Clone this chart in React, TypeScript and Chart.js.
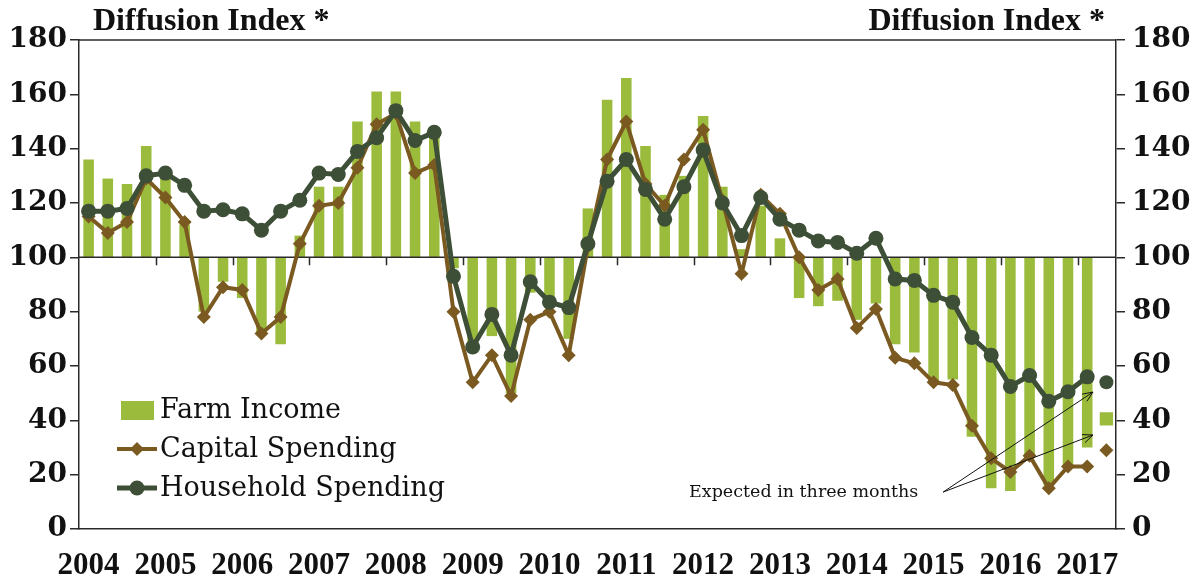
import React, { useEffect, useRef } from 'react';
import { Chart, registerables } from 'chart.js';

Chart.register(...registerables);

// ---- data ----
const years = ['2004', '2005', '2006', '2007', '2008', '2009', '2010', '2011', '2012', '2013', '2014', '2015', '2016', '2017'];
const quarterNames = ['Q1', 'Q2', 'Q3', 'Q4'];
// 2004 Q1 ... 2017 Q2 (2017 Q2 = expected in three months)
const quarters = years.flatMap((y) => quarterNames.map((q) => `${y} ${q}`)).slice(0, 54);

const farmIncome = [
  136, 129, 127, 141,
  129, 112, 80, 91,
  85, 72, 68, 108,
  126, 126, 150, 161,
  161, 150, 146, 96,
  68, 71, 50, 87,
  82, 70, 118, 158,
  166, 141, 123, 130,
  152, 126, 103, 119,
  107, 85, 82, 84,
  77, 83, 68, 65,
  54, 55, 34, 15,
  14, 27, 16, 23,
  30,
];
const capitalSpending = [
  115, 109, 113, 129,
  122, 113, 78, 89,
  88, 72, 78, 105,
  119, 120, 133, 149,
  153, 131, 134, 80,
  54, 64, 49, 77,
  80, 64, 104, 136,
  150, 127, 119, 136,
  147, 121, 94, 123,
  116, 100, 88, 92,
  74, 81, 63, 61,
  54, 53, 38, 26,
  21, 27, 15, 23,
  23,
];
const householdSpending = [
  117, 117, 118, 130,
  131, 126.5, 117, 117.5,
  116, 110, 117, 121,
  131, 130.5, 139, 144,
  154, 143, 146, 93,
  67, 79, 64, 91,
  83.5, 81.5, 105, 128,
  136, 125, 114, 126,
  139.5, 120, 108, 122,
  114, 110, 106, 105.5,
  101.5, 107, 92, 91.5,
  86, 83.5, 70.5, 64,
  52.5, 56.5, 47, 50.5,
  56,
];
const expectedFarmIncome = 40.5;
const expectedCapitalSpending = 29;
const expectedHouseholdSpending = 54;

const baseline = 100;
const yMin = 0;
const yMax = 180;
const yStep = 20;

const titleText = 'Diffusion Index *';
const annotationText = 'Expected in three months';
const seriesNames = ['Farm Income', 'Capital Spending', 'Household Spending'];

// annotation anchors in data units (category index, value)
const annotationTextAt = [43.2, 11.8];
const arrowStart = [44.5, 13.6];
const arrowEnds = [[52.3, 50.4], [52.3, 34.6]];

// ---- styles ----
const GREEN = '#9bbb3c';
const BROWN = '#7b5a22';
const DARK = '#3e4f37';
const AXIS = '#2a2a2a';
const SERIF = '"Liberation Serif", "Times New Roman", serif';
const SERIF2 = '"DejaVu Serif", serif';

const expectedOnly = (v: number) => quarters.map((_, i) => (i === quarters.length - 1 ? v : null));
const padToQuarters = (arr: number[]) => quarters.map((_, i) => (i < arr.length ? arr[i] : null));

const overlayPlugin = {
  id: 'overlay',
  afterDatasetDraw(chart: any, args: any) {
    if (args.index !== 0) return;
    const { ctx, chartArea, scales } = chart;
    const x = scales.x;
    const y = scales.y;
    const yb = y.getPixelForValue(baseline);
    ctx.save();
    ctx.strokeStyle = AXIS;
    ctx.lineWidth = 1.5;
    ctx.beginPath();
    ctx.moveTo(chartArea.left, yb);
    ctx.lineTo(chartArea.right, yb);
    quarters.forEach((q, i) => {
      if (i > 0 && q.endsWith('Q1')) {
        const px = Math.round(x.getPixelForValue(i - 0.5)) + 0.5;
        ctx.moveTo(px, yb);
        ctx.lineTo(px, yb + 8);
      }
    });
    ctx.stroke();
    ctx.restore();
  },
  afterDraw(chart: any) {
    const { ctx, chartArea, scales } = chart;
    const x = scales.x;
    const y = scales.y;
    ctx.save();
    // top border
    ctx.strokeStyle = AXIS;
    ctx.lineWidth = 1.5;
    ctx.beginPath();
    ctx.moveTo(chartArea.left, chartArea.top);
    ctx.lineTo(chartArea.right, chartArea.top);
    ctx.stroke();

    // titles
    ctx.fillStyle = '#111';
    ctx.font = `bold 32px ${SERIF}`;
    ctx.textBaseline = 'alphabetic';
    ctx.textAlign = 'left';
    ctx.fillText(titleText, chartArea.left + 14, chartArea.top - 10);
    ctx.textAlign = 'right';
    ctx.fillText(titleText, chartArea.right - 11, chartArea.top - 10);

    // legend
    const lx = chartArea.left + 38;
    const rows = [chartArea.bottom - 119, chartArea.bottom - 80, chartArea.bottom - 41];
    ctx.font = `27px ${SERIF2}`;
    ctx.textAlign = 'left';
    ctx.textBaseline = 'middle';
    // farm income
    ctx.fillStyle = GREEN;
    ctx.fillRect(lx + 4, rows[0] - 9, 33, 19);
    // capital
    ctx.strokeStyle = BROWN;
    ctx.lineWidth = 4;
    ctx.beginPath();
    ctx.moveTo(lx, rows[1]);
    ctx.lineTo(lx + 40, rows[1]);
    ctx.stroke();
    ctx.fillStyle = BROWN;
    ctx.beginPath();
    ctx.moveTo(lx + 20 - 7, rows[1]);
    ctx.lineTo(lx + 20, rows[1] - 7);
    ctx.lineTo(lx + 20 + 7, rows[1]);
    ctx.lineTo(lx + 20, rows[1] + 7);
    ctx.closePath();
    ctx.fill();
    // household
    ctx.strokeStyle = DARK;
    ctx.lineWidth = 5;
    ctx.beginPath();
    ctx.moveTo(lx, rows[2]);
    ctx.lineTo(lx + 40, rows[2]);
    ctx.stroke();
    ctx.fillStyle = DARK;
    ctx.beginPath();
    ctx.arc(lx + 20, rows[2], 7.5, 0, Math.PI * 2);
    ctx.fill();
    ctx.fillStyle = '#111';
    seriesNames.forEach((n, i) => ctx.fillText(n, lx + 43, rows[i] + 1));

    // annotation
    ctx.font = `17.5px ${SERIF2}`;
    ctx.textAlign = 'right';
    ctx.textBaseline = 'alphabetic';
    ctx.fillStyle = '#111';
    ctx.fillText(annotationText, x.getPixelForValue(annotationTextAt[0]), y.getPixelForValue(annotationTextAt[1]));
    const sx = x.getPixelForValue(arrowStart[0]);
    const sy = y.getPixelForValue(arrowStart[1]);
    ctx.strokeStyle = '#111';
    ctx.lineWidth = 1;
    arrowEnds.forEach(([ei, ev]) => {
      const ex = x.getPixelForValue(ei);
      const ey = y.getPixelForValue(ev);
      ctx.beginPath();
      ctx.moveTo(sx, sy);
      ctx.lineTo(ex, ey);
      const ang = Math.atan2(ey - sy, ex - sx);
      const hl = 11;
      ctx.moveTo(ex - hl * Math.cos(ang - 0.4), ey - hl * Math.sin(ang - 0.4));
      ctx.lineTo(ex, ey);
      ctx.lineTo(ex - hl * Math.cos(ang + 0.4), ey - hl * Math.sin(ang + 0.4));
      ctx.stroke();
    });
    ctx.restore();
  },
};

export default function App() {
  const canvasRef = useRef<HTMLCanvasElement | null>(null);

  useEffect(() => {
    if (!canvasRef.current) return;
    const tickFont = { family: SERIF2, weight: 'bold' as const, size: 28 };
    const chart = new Chart(canvasRef.current, {
      type: 'bar',
      data: {
        labels: quarters,
        datasets: [
          {
            type: 'bar',
            label: seriesNames[0],
            data: quarters.map((_, i) => (i < farmIncome.length ? [baseline, farmIncome[i]] : null)) as any,
            backgroundColor: GREEN,
            barPercentage: 0.55,
            categoryPercentage: 1,
            order: 5,
          },
          {
            type: 'line',
            label: seriesNames[1],
            data: padToQuarters(capitalSpending),
            borderColor: BROWN,
            backgroundColor: BROWN,
            borderWidth: 4,
            pointStyle: 'rectRot',
            pointRadius: 7,
            pointBorderWidth: 0,
            pointBackgroundColor: BROWN,
            tension: 0,
            order: 2,
          },
          {
            type: 'line',
            label: seriesNames[2],
            data: padToQuarters(householdSpending),
            borderColor: DARK,
            backgroundColor: DARK,
            borderWidth: 5,
            pointStyle: 'circle',
            pointRadius: 7.5,
            pointBorderWidth: 0,
            pointBackgroundColor: DARK,
            tension: 0,
            order: 1,
          },
          {
            type: 'line',
            label: 'Farm Income (expected)',
            data: expectedOnly(expectedFarmIncome),
            showLine: false,
            pointStyle: 'rect',
            pointRadius: 9.4,
            pointBorderWidth: 0,
            pointBackgroundColor: GREEN,
            order: 0,
          },
          {
            type: 'line',
            label: 'Capital Spending (expected)',
            data: expectedOnly(expectedCapitalSpending),
            showLine: false,
            pointStyle: 'rectRot',
            pointRadius: 7,
            pointBorderWidth: 0,
            pointBackgroundColor: BROWN,
            order: 0,
          },
          {
            type: 'line',
            label: 'Household Spending (expected)',
            data: expectedOnly(expectedHouseholdSpending),
            showLine: false,
            pointStyle: 'circle',
            pointRadius: 7,
            pointBorderWidth: 0,
            pointBackgroundColor: DARK,
            order: 0,
          },
        ],
      },
      options: {
        animation: false,
        responsive: false,
        devicePixelRatio: 1,
        layout: { padding: { top: 40, left: 0, right: 0, bottom: 0 } },
        plugins: {
          legend: { display: false },
          tooltip: { enabled: false },
          title: { display: false },
        },
        scales: {
          x: {
            type: 'category',
            offset: true,
            grid: { display: false },
            border: { display: true, color: AXIS, width: 1.5 },
            ticks: {
              autoSkip: false,
              maxRotation: 0,
              minRotation: 0,
              padding: 10,
              color: '#111',
              font: { family: SERIF, weight: 'bold', size: 31 },
              callback: (_v: any, i: number) => (quarters[i].endsWith('Q1') ? quarters[i].slice(0, 4) : ''),
            },
            afterFit: (s: any) => {
              s.height = 54;
            },
          },
          y: {
            position: 'left',
            min: yMin,
            max: yMax,
            grid: { display: true, drawOnChartArea: false, drawTicks: true, tickLength: 9, color: AXIS, lineWidth: 1.5 },
            border: { display: true, color: AXIS, width: 1.5 },
            ticks: { stepSize: yStep, padding: 3, color: '#111', font: tickFont },
            afterFit: (s: any) => {
              s.width = 79;
            },
          },
          y2: {
            position: 'right',
            min: yMin,
            max: yMax,
            grid: { display: true, drawOnChartArea: false, drawTicks: true, tickLength: 9, color: AXIS, lineWidth: 1.5 },
            border: { display: true, color: AXIS, width: 1.5 },
            ticks: { stepSize: yStep, padding: 7, color: '#111', font: tickFont },
            afterFit: (s: any) => {
              s.width = 78;
            },
          },
        },
      },
      plugins: [overlayPlugin],
    });
    return () => chart.destroy();
  }, []);

  return (
    <div style={{ position: 'fixed', left: 0, top: 0, width: 1194, height: 583, background: '#ffffff' }}>
      <canvas ref={canvasRef} width={1194} height={583} style={{ width: 1194, height: 583, display: 'block' }} />
    </div>
  );
}
